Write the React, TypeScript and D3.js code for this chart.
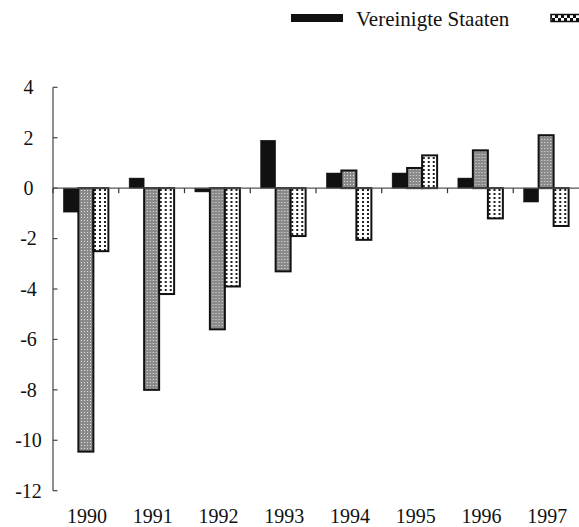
import React from "react";
import * as d3 from "d3";

const years = ["1990", "1991", "1992", "1993", "1994", "1995", "1996", "1997"];
const seriesA = [-0.95, 0.4, -0.15, 1.9, 0.6, 0.6, 0.4, -0.55];
const seriesB = [-10.45, -8.0, -5.6, -3.3, 0.7, 0.8, 1.5, 2.1];
const seriesC = [-2.5, -4.2, -3.9, -1.9, -2.05, 1.3, -1.2, -1.5];
const yTicks = [4, 2, 0, -2, -4, -6, -8, -10, -12];
const legendLabels = ["Vereinigte Staaten", ""];

const W = 579;
const H = 527;

export default function App() {
  const x = d3.scaleBand<string>().domain(years).range([53, 579]);
  const y = d3.scaleLinear().domain([-12, 4]).range([490.7, 87.3]);
  const barW = 15;
  const off = (x.bandwidth() - 3 * barW) / 2;
  const inner = d3
    .scaleBand<number>()
    .domain([0, 1, 2])
    .range([off, off + 3 * barW]);
  const series = [seriesA, seriesB, seriesC];
  const fills = ["#111", "url(#patB)", "url(#patC)"];
  const font = "'Liberation Serif', 'Times New Roman', serif";

  return (
    <svg
      width={W}
      height={H}
      style={{ position: "absolute", left: 0, top: 0, background: "#fff" }}
      fontFamily={font}
    >
      <defs>
        <pattern id="patB" width="3" height="3" patternUnits="userSpaceOnUse">
          <rect width="3" height="3" fill="#8a8a8a" />
          <rect x="1" y="1" width="1" height="1" fill="#e0e0e0" />
        </pattern>
        <pattern id="patC" width="5" height="4" patternUnits="userSpaceOnUse">
          <rect width="5" height="4" fill="#fff" />
          <rect x="1" y="1" width="2" height="2" fill="#222" />
        </pattern>
        <pattern id="patLeg" width="6" height="6" patternUnits="userSpaceOnUse">
          <rect width="6" height="6" fill="#fff" />
          <rect x="0" y="0" width="3" height="3" fill="#111" />
          <rect x="3" y="3" width="3" height="3" fill="#111" />
        </pattern>
      </defs>

      {/* legend */}
      <rect x={291} y={14} width={52} height={8} fill="#111" />
      <text x={356} y={26} fontSize={21} fill="#111">
        {legendLabels[0]}
      </text>
      <rect x={551} y={14.5} width={52} height={7} fill="url(#patLeg)" stroke="#111" strokeWidth={1.5} />

      {/* y axis */}
      <line x1={53} x2={53} y1={y(4)} y2={y(-12)} stroke="#444" strokeWidth={1.2} />
      {yTicks.map((t) => (
        <g key={t}>
          <line x1={53} x2={57.5} y1={y(t)} y2={y(t)} stroke="#444" strokeWidth={1.2} />
          <text
            x={28.5}
            y={y(t)}
            dy="0.34em"
            textAnchor="middle"
            fontSize={20}
            fill="#111"
          >
            {t}
          </text>
        </g>
      ))}

      {/* bars */}
      {years.map((yr, i) => (
        <g key={yr} transform={`translate(${x(yr)},0)`}>
          {series.map((s, k) => {
            const v = s[i];
            const y0 = y(Math.max(0, v));
            const h = Math.abs(y(v) - y(0));
            return (
              <rect
                key={k}
                x={inner(k)!}
                y={y0}
                width={inner.bandwidth()}
                height={h}
                fill={fills[k]}
                stroke="#111"
                strokeWidth={k === 0 ? 0.5 : 2}
              />
            );
          })}
        </g>
      ))}

      {/* zero line and category ticks */}
      <line x1={53} x2={579} y1={y(0)} y2={y(0)} stroke="#555" strokeWidth={1.2} />
      {years.map((yr) => (
        <line
          key={yr}
          x1={x(yr)!}
          x2={x(yr)!}
          y1={y(0)}
          y2={y(0) + 5}
          stroke="#333"
          strokeWidth={1.2}
        />
      ))}

      {/* x labels */}
      {years.map((yr) => (
        <text
          key={yr}
          x={x(yr)! + x.bandwidth() / 2 + 1}
          y={523}
          textAnchor="middle"
          fontSize={20}
          fill="#111"
        >
          {yr}
        </text>
      ))}
    </svg>
  );
}
